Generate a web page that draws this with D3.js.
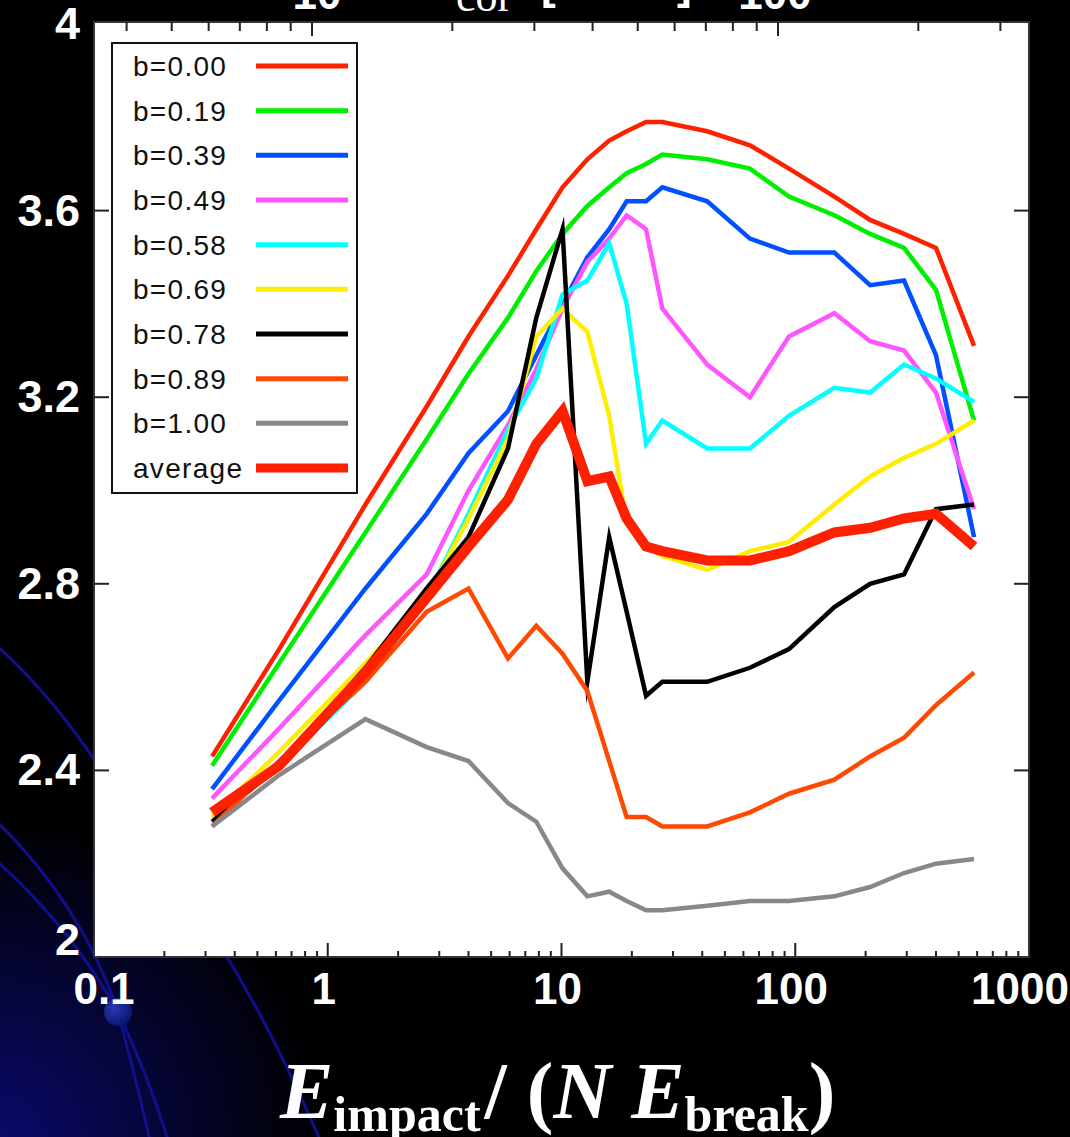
<!DOCTYPE html>
<html>
<head>
<meta charset="utf-8">
<script src="https://cdn.jsdelivr.net/npm/d3@7"></script>
<style>
  body { margin: 0; background: #000; }
  svg { display: block; }
</style>
</head>
<body>
<script>
// x values (E_impact / (N E_break)) shared by all curves
const xVals = [0.32, 0.62, 1.45, 2.65, 4.0, 5.9, 7.8, 10.1, 12.9, 16, 19, 23, 27, 42, 64, 94, 147, 209, 292, 400, 582];

const b000 = [2.43, 2.66, 2.97, 3.18, 3.33, 3.46, 3.56, 3.65, 3.71, 3.75, 3.77, 3.79, 3.79, 3.77, 3.74, 3.69, 3.63, 3.58, 3.55, 3.52, 3.31];
const b019 = [2.41, 2.63, 2.91, 3.11, 3.25, 3.37, 3.47, 3.55, 3.61, 3.65, 3.68, 3.70, 3.72, 3.71, 3.69, 3.63, 3.59, 3.55, 3.52, 3.43, 3.15];
const b039 = [2.36, 2.55, 2.79, 2.95, 3.08, 3.17, 3.29, 3.40, 3.50, 3.56, 3.62, 3.62, 3.65, 3.62, 3.54, 3.51, 3.51, 3.44, 3.45, 3.29, 2.90];
const b049 = [2.34, 2.49, 2.69, 2.82, 3.00, 3.14, 3.26, 3.39, 3.49, 3.54, 3.59, 3.56, 3.39, 3.27, 3.20, 3.33, 3.38, 3.32, 3.30, 3.21, 2.96];
const b058 = [2.30, 2.41, 2.59, 2.77, 2.95, 3.13, 3.24, 3.42, 3.45, 3.53, 3.40, 3.10, 3.15, 3.09, 3.09, 3.16, 3.22, 3.21, 3.27, 3.24, 3.19];
const b069 = [2.30, 2.44, 2.63, 2.77, 2.94, 3.11, 3.33, 3.39, 3.34, 3.16, 2.93, 2.88, 2.86, 2.83, 2.87, 2.89, 2.97, 3.03, 3.07, 3.10, 3.15];
const b078 = [2.29, 2.41, 2.62, 2.79, 2.90, 3.09, 3.37, 3.56, 2.59, 2.90, 2.74, 2.56, 2.59, 2.59, 2.62, 2.66, 2.75, 2.80, 2.82, 2.96, 2.97];
const b089 = [2.28, 2.42, 2.59, 2.74, 2.79, 2.64, 2.71, 2.65, 2.57, 2.42, 2.30, 2.30, 2.28, 2.28, 2.31, 2.35, 2.38, 2.43, 2.47, 2.54, 2.61];
const b100 = [2.28, 2.39, 2.51, 2.45, 2.42, 2.33, 2.29, 2.19, 2.13, 2.14, 2.12, 2.10, 2.10, 2.11, 2.12, 2.12, 2.13, 2.15, 2.18, 2.20, 2.21];
const average = [2.31, 2.41, 2.61, 2.77, 2.88, 2.98, 3.10, 3.17, 3.02, 3.03, 2.94, 2.88, 2.87, 2.85, 2.85, 2.87, 2.91, 2.92, 2.94, 2.95, 2.88];

const seriesNames = ["b=0.00", "b=0.19", "b=0.39", "b=0.49", "b=0.58", "b=0.69", "b=0.78", "b=0.89", "b=1.00", "average"];
const seriesValues = [b000, b019, b039, b049, b058, b069, b078, b089, b100, average];
const seriesColors = ["#ff2000", "#00ee00", "#0050ff", "#ff55ff", "#00ffff", "#ffee00", "#000000", "#ff4800", "#888888", "#ff2000"];

const xMajor = [0.1, 1, 10, 100, 1000];
const xTickLabels = ["0.1", "1", "10", "100", "1000"];
const yTicks = [2, 2.4, 2.8, 3.2, 3.6, 4];
const yTickLabels = ["2", "2.4", "2.8", "3.2", "3.6", "4"];

const W = 1070, H = 1137;
const plot = {left: 94, right: 1029, top: 24, bottom: 957};

const svg = d3.select("body").append("svg")
    .attr("width", W)
    .attr("height", H);

// background glow + decorative arcs of the slide
const defs = svg.append("defs");
const glow = defs.append("radialGradient").attr("id", "glow")
    .attr("cx", 0).attr("cy", 1).attr("r", 0.95);
glow.append("stop").attr("offset", "0%").attr("stop-color", "#0a0a6a");
glow.append("stop").attr("offset", "100%").attr("stop-color", "#000000");
const ball = defs.append("radialGradient").attr("id", "ball")
    .attr("cx", 0.35).attr("cy", 0.35).attr("r", 0.7);
ball.append("stop").attr("offset", "0%").attr("stop-color", "#2a3ab0");
ball.append("stop").attr("offset", "100%").attr("stop-color", "#0a1470");

svg.append("rect").attr("width", W).attr("height", H).attr("fill", "#000");
svg.append("rect").attr("x", 0).attr("y", 800).attr("width", 340).attr("height", 337)
    .attr("fill", "url(#glow)");

const arcs = [
  "M -10,640 Q 60,700 120,800",
  "M -10,815 Q 80,900 118,1012 Q 135,1075 150,1140",
  "M -10,855 Q 70,925 118,1012 Q 148,1075 168,1140",
  "M 190,900 Q 260,1000 320,1140"
];
svg.selectAll("path.arc").data(arcs).enter().append("path")
    .attr("class", "arc")
    .attr("d", d => d)
    .attr("fill", "none")
    .attr("stroke", "#10108c")
    .attr("stroke-width", 3);

svg.append("circle").attr("cx", 118).attr("cy", 1012).attr("r", 14).attr("fill", "url(#ball)");

// scales
const x = d3.scaleLog().domain([0.1, 1000]).range([plot.left, plot.right]);
const y = d3.scaleLinear().domain([2, 4]).range([plot.bottom, plot.top]);
const xTop = d3.scaleLog().domain([3.405, 345.6]).range([plot.left, plot.right]);

// plot area
svg.append("rect")
    .attr("x", plot.left).attr("y", plot.top - 2)
    .attr("width", plot.right - plot.left).attr("height", plot.bottom - plot.top + 2)
    .attr("fill", "#fff")
    .attr("stroke", "#333")
    .attr("stroke-width", 2);

const ticks = svg.append("g").attr("stroke", "#222").attr("stroke-width", 2);

// bottom log ticks, inward
x.ticks().forEach(t => {
  const major = xMajor.some(m => Math.abs(m - t) < 1e-9);
  if (t <= 0.1 || t >= 1000) return;
  ticks.append("line")
      .attr("x1", x(t)).attr("x2", x(t))
      .attr("y1", plot.bottom).attr("y2", plot.bottom - (major ? 14 : 6));
});

// top log ticks (second energy scale)
xTop.ticks().forEach(t => {
  const lg = Math.log10(t);
  const major = Math.abs(lg - Math.round(lg)) < 1e-9;
  ticks.append("line")
      .attr("x1", xTop(t)).attr("x2", xTop(t))
      .attr("y1", plot.top - 2).attr("y2", plot.top - 2 + (major ? 14 : 9));
});

// y ticks on both sides
yTicks.slice(1, -1).forEach(t => {
  ticks.append("line").attr("x1", plot.left).attr("x2", plot.left + 15)
      .attr("y1", y(t)).attr("y2", y(t));
  ticks.append("line").attr("x1", plot.right - 15).attr("x2", plot.right)
      .attr("y1", y(t)).attr("y2", y(t));
});

// tick labels
svg.append("g").selectAll("text").data(xMajor).enter().append("text")
    .attr("x", (d, i) => x(d) + (i === 0 ? 10 : i === xMajor.length - 1 ? -9 : -4))
    .attr("y", 1004)
    .attr("text-anchor", "middle")
    .attr("font-family", "Liberation Sans, Arial, sans-serif")
    .attr("font-weight", "bold")
    .attr("font-size", 44)
    .attr("fill", "#fff")
    .text((d, i) => xTickLabels[i]);

svg.append("g").selectAll("text").data(yTicks).enter().append("text")
    .attr("x", 80)
    .attr("y", (d, i) => y(d) + 15 - (i === 0 ? 17 : 0))
    .attr("text-anchor", "end")
    .attr("font-family", "Liberation Sans, Arial, sans-serif")
    .attr("font-weight", "bold")
    .attr("font-size", 45)
    .attr("fill", "#fff")
    .text((d, i) => yTickLabels[i]);

// the labels of the top scale, cut off by the slide edge as in the original
const topText = svg.append("g").attr("fill", "#fff");
topText.append("text").attr("x", xTop(10) + 5).attr("y", 9).attr("text-anchor", "middle")
    .attr("font-family", "Liberation Sans, Arial, sans-serif").attr("font-weight", "bold")
    .attr("font-size", 44).text("10");
topText.append("text").attr("x", xTop(100) - 3).attr("y", 9).attr("text-anchor", "middle")
    .attr("font-family", "Liberation Sans, Arial, sans-serif").attr("font-weight", "bold")
    .attr("font-size", 44).text("100");
topText.append("text").attr("x", 456).attr("y", 11)
    .attr("font-family", "Liberation Serif, Times New Roman, serif")
    .attr("font-size", 44).text("cor");
topText.append("text").attr("x", 541).attr("y", -1)
    .attr("font-family", "Liberation Sans, Arial, sans-serif").attr("font-weight", "bold")
    .attr("font-size", 44).text("[");
topText.append("text").attr("x", 677).attr("y", -1)
    .attr("font-family", "Liberation Sans, Arial, sans-serif").attr("font-weight", "bold")
    .attr("font-size", 44).text("]");

// curves
const line = d3.line()
    .x((d, i) => x(xVals[i]))
    .y(d => y(d));

const clip = defs.append("clipPath").attr("id", "clip");
clip.append("rect").attr("x", plot.left).attr("y", plot.top)
    .attr("width", plot.right - plot.left).attr("height", plot.bottom - plot.top);

svg.append("g").attr("clip-path", "url(#clip)")
  .selectAll("path").data(seriesValues).enter().append("path")
    .attr("d", d => line(d))
    .attr("fill", "none")
    .attr("stroke", (d, i) => seriesColors[i])
    .attr("stroke-width", (d, i) => i === seriesValues.length - 1 ? 10 : 4.5)
    .attr("stroke-linejoin", "miter")
    .attr("stroke-miterlimit", 20);

// legend
const legend = svg.append("g");
legend.append("rect")
    .attr("x", 112).attr("y", 43).attr("width", 245).attr("height", 450)
    .attr("fill", "#fff").attr("stroke", "#111").attr("stroke-width", 2);

const rowY = d3.scaleLinear().domain([0, seriesNames.length - 1]).range([66, 468]);
seriesNames.forEach((name, i) => {
  legend.append("text")
      .attr("x", 133).attr("y", rowY(i) + 10)
      .attr("font-family", "Liberation Sans, Arial, sans-serif")
      .attr("font-size", 28)
      .attr("letter-spacing", 1.3)
      .attr("fill", "#111")
      .text(name);
  legend.append("line")
      .attr("x1", 256).attr("x2", 348)
      .attr("y1", rowY(i)).attr("y2", rowY(i))
      .attr("stroke", seriesColors[i])
      .attr("stroke-width", i === seriesNames.length - 1 ? 9 : 5);
});

// x axis title
const title = svg.append("text")
    .attr("x", 280).attr("y", 1118)
    .attr("font-family", "Liberation Serif, Times New Roman, serif")
    .attr("font-weight", "bold")
    .attr("fill", "#fff");
title.append("tspan").attr("font-style", "italic").attr("font-size", 80).text("E");
title.append("tspan").attr("font-size", 50).attr("dy", 13).text("impact");
title.append("tspan").attr("font-size", 80).attr("dy", -13).attr("dx", 4).text("/ (");
title.append("tspan").attr("font-style", "italic").attr("font-size", 80).text("N E");
title.append("tspan").attr("font-size", 50).attr("dy", 13).text("break");
title.append("tspan").attr("font-size", 80).attr("dy", -13).text(")");
</script>
</body>
</html>
